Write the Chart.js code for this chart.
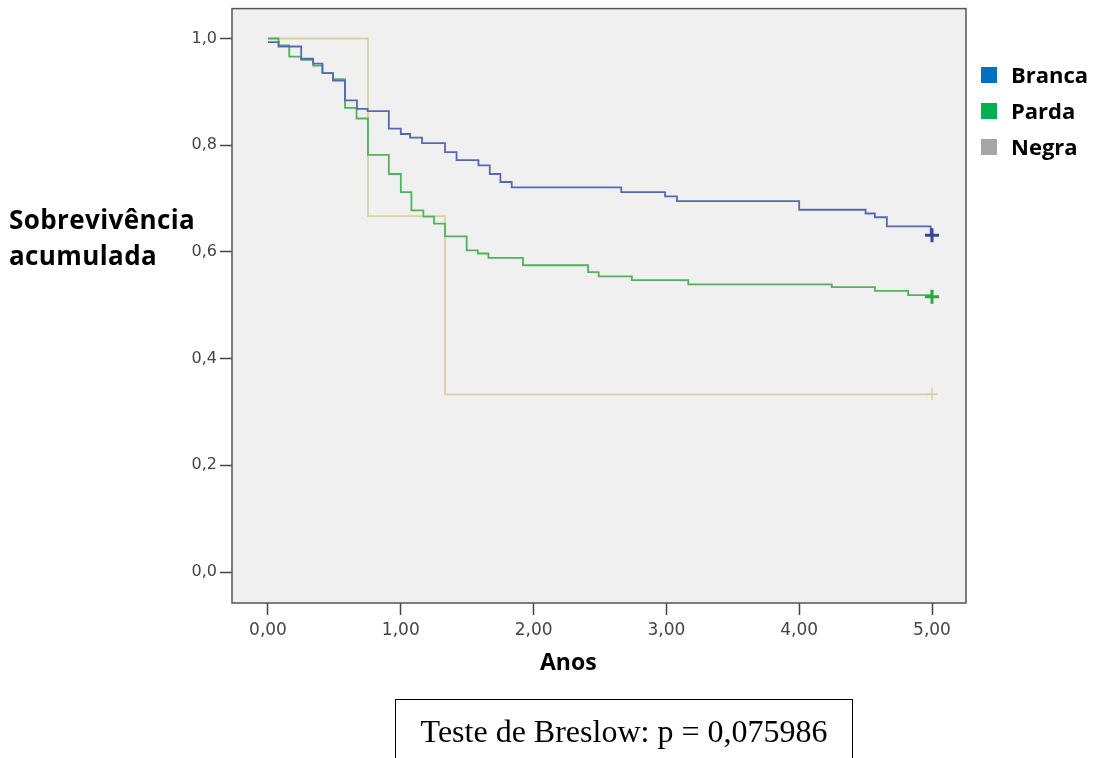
<!DOCTYPE html>
<html>
<head>
<meta charset="utf-8">
<script src="https://cdn.jsdelivr.net/npm/chart.js@4"></script>
<style>
  body { margin: 0; background: #fff; }
  #wrap { position: relative; width: 1096px; height: 758px; overflow: hidden; }
  #chart { position: absolute; left: 0; top: -4px; }
  .lbl { position: absolute; font-family: "Open Sans", sans-serif; font-weight: bold; color: #000; white-space: nowrap; }
  .sq { position: absolute; width: 16px; height: 16px; }
  #breslow { position: absolute; left: 395px; top: 699px; width: 458px; height: 70px;
             border: 1.5px solid #000; font-family: "Liberation Serif", serif; font-size: 32px;
             text-align: center; line-height: 62px; box-sizing: border-box; }
</style>
</head>
<body>
<div id="wrap">
  <canvas id="chart" width="1096" height="758"></canvas>
  <div class="lbl" style="left:9px; top:201px; font-size:26px; line-height:36px; letter-spacing:0.4px;">Sobrevivência<br>acumulada</div>
  <div class="lbl" style="left:540px; top:645px; font-size:23px;">Anos</div>
  <div class="sq" style="left:981px; top:67px; background:#0070c0;"></div>
  <div class="lbl" style="left:1011px; top:59px; font-size:22px;">Branca</div>
  <div class="sq" style="left:981px; top:103px; background:#00b050;"></div>
  <div class="lbl" style="left:1011px; top:95px; font-size:22px;">Parda</div>
  <div class="sq" style="left:981px; top:139px; background:#a5a5a5;"></div>
  <div class="lbl" style="left:1011px; top:131px; font-size:22px;">Negra</div>
  <div id="breslow">Teste de Breslow: p = 0,075986</div>
</div>
<script>
// Kaplan-Meier steps: time (anos) where survival drops, and the new value
const brancaTempo = [0, 0.08, 0.25, 0.34, 0.41, 0.49, 0.58, 0.67, 0.75, 0.91, 1.0, 1.07, 1.16, 1.333, 1.42, 1.585, 1.67, 1.75, 1.835, 2.66, 2.99, 3.08, 4.0, 4.5, 4.57, 4.66, 4.99, 5.0]
const brancaSobrev = [0.993, 0.985, 0.962, 0.953, 0.935, 0.921, 0.884, 0.868, 0.864, 0.831, 0.821, 0.814, 0.804, 0.787, 0.772, 0.762, 0.746, 0.731, 0.721, 0.712, 0.704, 0.695, 0.679, 0.672, 0.665, 0.648, 0.631, 0.631]

const pardaTempo = [0, 0.08, 0.16, 0.25, 0.34, 0.41, 0.49, 0.58, 0.667, 0.753, 0.91, 1.0, 1.08, 1.17, 1.25, 1.333, 1.496, 1.58, 1.66, 1.92, 2.41, 2.49, 2.74, 3.165, 4.245, 4.57, 4.82, 5.0]
const pardaSobrev = [1.0, 0.987, 0.966, 0.96, 0.949, 0.935, 0.924, 0.870, 0.850, 0.782, 0.746, 0.712, 0.678, 0.666, 0.653, 0.629, 0.603, 0.597, 0.589, 0.575, 0.562, 0.554, 0.547, 0.539, 0.534, 0.527, 0.519, 0.519]

const negraTempo = [0, 0.753, 1.333, 5.0]
const negraSobrev = [1.0, 0.667, 0.333, 0.333]

// censored cases (+)
const censuraTempo = [5.0, 5.0, 5.0]
const censuraSobrev = [0.631, 0.516, 0.333]

const xTicks = [0, 1, 2, 3, 4, 5]
const yTicks = [0, 0.2, 0.4, 0.6, 0.8, 1.0]

const pts = (ts, ss) => ts.map((t, i) => ({x: t, y: ss[i]}))

const plotFrame = {
    id: 'plotFrame',
    beforeDraw(chart) {
        const {ctx, chartArea: a} = chart
        ctx.save()
        ctx.fillStyle = '#f0f0f0'
        ctx.fillRect(a.left, a.top, a.right - a.left, a.bottom - a.top)
        ctx.restore()
    },
    afterDraw(chart) {
        const {ctx, chartArea: a} = chart
        ctx.save()
        ctx.strokeStyle = '#555'
        ctx.lineWidth = 1.5
        ctx.strokeRect(a.left, a.top, a.right - a.left, a.bottom - a.top)
        ctx.restore()
    }
}

const line = (label, ts, ss, color) => ({
    label, data: pts(ts, ss), borderColor: color, borderWidth: 1.8,
    stepped: true, pointRadius: 0, fill: false
})

const cross = (i, color, w, r) => ({
    type: 'scatter', data: [{x: censuraTempo[i], y: censuraSobrev[i]}],
    pointStyle: 'cross', pointRadius: r, borderColor: color, borderWidth: w,
    backgroundColor: color
})

new Chart(document.getElementById('chart'), {
    type: 'line',
    data: {
        datasets: [
            cross(0, '#34479a', 3, 7),
            cross(1, '#2fa541', 3, 7),
            cross(2, '#d6d09a', 1.5, 6),
            line('Branca', brancaTempo, brancaSobrev, '#5668b3'),
            line('Parda', pardaTempo, pardaSobrev, '#4fb35c'),
            line('Negra', negraTempo, negraSobrev, '#d8d29e')
        ]
    },
    plugins: [plotFrame],
    options: {
        responsive: false,
        animation: false,
        layout: {padding: {left: 172, right: 130, top: 4, bottom: 111}},
        plugins: {legend: {display: false}, tooltip: {enabled: false}},
        scales: {
            x: {
                type: 'linear', min: -0.271, max: 5.256,
                afterBuildTicks: s => { s.ticks = xTicks.map(v => ({value: v})) },
                afterFit: s => { s.height = 40 },
                grid: {drawOnChartArea: false, tickLength: 12, tickColor: '#444', tickWidth: 1.5},
                border: {display: false},
                ticks: {
                    padding: 5, color: '#444', font: {family: 'DejaVu Sans', size: 17},
                    callback: v => v.toFixed(2).replace('.', ',')
                }
            },
            y: {
                type: 'linear', min: -0.058, max: 1.056,
                afterBuildTicks: s => { s.ticks = yTicks.map(v => ({value: v})) },
                afterFit: s => { s.width = 60 },
                grid: {drawOnChartArea: false, tickLength: 12, tickColor: '#444', tickWidth: 1.5},
                border: {display: false},
                ticks: {
                    padding: 3, color: '#444', font: {family: 'DejaVu Sans', size: 16},
                    callback: v => v.toFixed(1).replace('.', ',')
                }
            }
        }
    }
})
</script>
</body>
</html>
